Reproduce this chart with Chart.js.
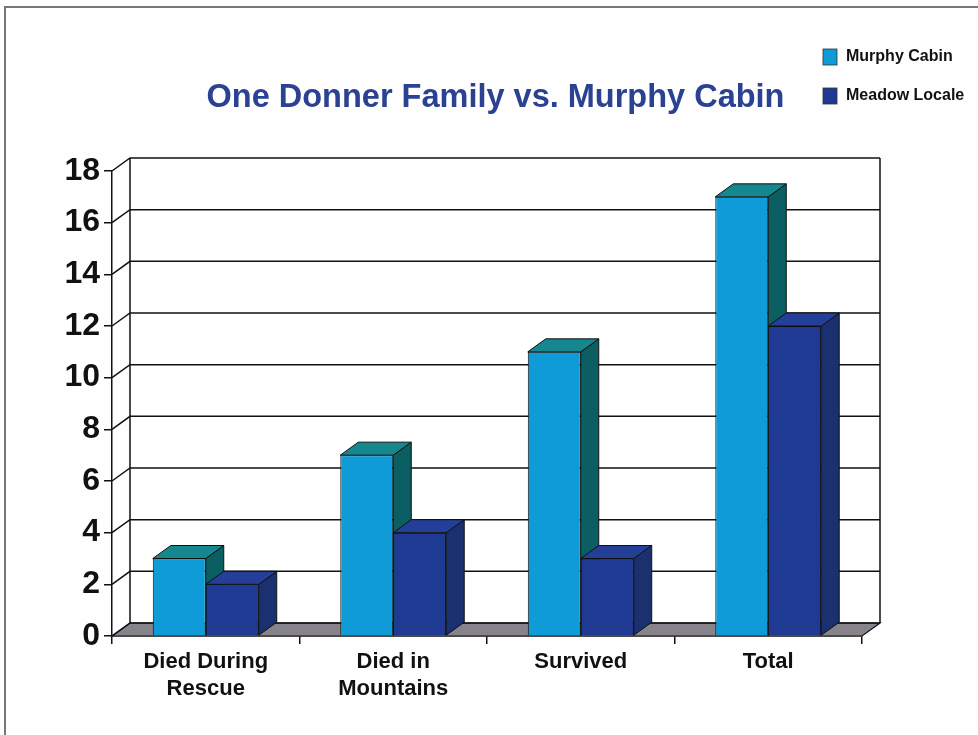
<!DOCTYPE html>
<html><head><meta charset="utf-8">
<script src="https://cdn.jsdelivr.net/npm/chart.js@4.4.1/dist/chart.umd.min.js"></script>
<style>html,body{margin:0;padding:0;background:#fff;}canvas{display:block}</style>
</head><body>
<canvas id="c" width="978" height="735"></canvas>
<script>
const TITLE = 'One Donner Family vs. Murphy Cabin';
const categories = [['Died During','Rescue'], ['Died in','Mountains'], 'Survived', 'Total'];
const seriesNames = ['Murphy Cabin', 'Meadow Locale'];
const murphyCabin = [3, 7, 11, 17];
const meadowLocale = [2, 4, 3, 12];
const yMax = 18;
const yStep = 2;

const FONT = '"Liberation Sans", Arial, sans-serif';
const DX = 18, DY = -13;
const faceColors = [
  {front:'#0e9bd7', top:'#14878f', side:'#0b5e62'},
  {front:'#1e3a93', top:'#233f98', side:'#1a306f'}
];

function poly(ctx, pts, fill){
  ctx.beginPath();
  ctx.moveTo(pts[0][0], pts[0][1]);
  for (let i=1;i<pts.length;i++) ctx.lineTo(pts[i][0], pts[i][1]);
  ctx.closePath();
  if (fill){ ctx.fillStyle = fill; ctx.fill(); }
  ctx.stroke();
}

const frame3d = {
  id:'frame3d',
  beforeDraw(chart){
    const ctx = chart.ctx;
    ctx.save();
    ctx.fillStyle = '#fefefe';
    ctx.fillRect(0,0,chart.width,chart.height);
    ctx.strokeStyle = '#777';
    ctx.lineWidth = 2;
    ctx.beginPath();
    ctx.moveTo(5, chart.height); ctx.lineTo(5, 7); ctx.lineTo(chart.width, 7);
    ctx.stroke();
    ctx.restore();
  },
  beforeDatasetsDraw(chart){
    const {ctx, chartArea:a, scales:{y}} = chart;
    ctx.save();
    ctx.strokeStyle = '#111';
    ctx.lineWidth = 1.5;
    const top = y.getPixelForValue(yMax) + DY;
    const bot = y.getPixelForValue(0) + DY;
    ctx.fillStyle = '#fff';
    ctx.fillRect(a.left+DX, top, a.right-a.left, bot-top);
    ctx.lineWidth = 1.2;
    poly(ctx, [[a.left,a.bottom],[a.right,a.bottom],[a.right+DX,a.bottom+DY],[a.left+DX,a.bottom+DY]], '#86848a');
    ctx.lineWidth = 1.5;
    for (let v=0; v<=yMax; v+=yStep){
      const py = y.getPixelForValue(v);
      ctx.beginPath();
      ctx.moveTo(a.left, py);
      ctx.lineTo(a.left+DX, py+DY);
      ctx.lineTo(a.right+DX, py+DY);
      ctx.stroke();
    }
    ctx.beginPath();
    ctx.moveTo(a.left+DX, top); ctx.lineTo(a.left+DX, bot);
    ctx.moveTo(a.right+DX, top); ctx.lineTo(a.right+DX, bot);
    ctx.stroke();
    ctx.restore();
  },
  afterDatasetsDraw(chart){
    const ctx = chart.ctx;
    const metas = [chart.getDatasetMeta(0), chart.getDatasetMeta(1)];
    ctx.save();
    ctx.strokeStyle = '#111';
    ctx.lineWidth = 1;
    const faces = (el, c) => {
      const p = el.getProps(['x','y','base','width'], true);
      const l = p.x - p.width/2, r = p.x + p.width/2;
      poly(ctx, [[r,p.y],[r+DX,p.y+DY],[r+DX,p.base+DY],[r,p.base]], c.side);
      poly(ctx, [[l,p.y],[l+DX,p.y+DY],[r+DX,p.y+DY],[r,p.y]], c.top);
    };
    for (let i=0;i<categories.length;i++){
      faces(metas[0].data[i], faceColors[0]);
      metas[1].data[i].draw(ctx);
      faces(metas[1].data[i], faceColors[1]);
    }
    ctx.restore();
  },
  afterDraw(chart){
    const ctx = chart.ctx;
    ctx.save();
    ctx.fillStyle = '#2b4192';
    ctx.font = 'bold 32.5px ' + FONT;
    ctx.textAlign = 'center';
    ctx.textBaseline = 'alphabetic';
    ctx.fillText(TITLE, 495.5, 107);
    const ds = chart.data.datasets;
    const ly = [49, 88];
    ds.forEach((d, i) => {
      ctx.fillStyle = d.backgroundColor;
      ctx.fillRect(823, ly[i], 14, 16);
      ctx.strokeStyle = '#333'; ctx.lineWidth = 0.8;
      ctx.strokeRect(823, ly[i], 14, 16);
      ctx.fillStyle = '#111';
      ctx.font = 'bold 16px ' + FONT;
      ctx.textAlign = 'left';
      ctx.textBaseline = 'middle';
      ctx.fillText(d.label, 846, ly[i] + 8);
    });
    ctx.restore();
  }
};

new Chart(document.getElementById('c'), {
  type:'bar',
  data:{
    labels: categories,
    datasets:[
      {label: seriesNames[0], data: murphyCabin, backgroundColor: faceColors[0].front, borderColor:'#111', borderWidth:1},
      {label: seriesNames[1], data: meadowLocale, backgroundColor: faceColors[1].front, borderColor:'#111', borderWidth:1}
    ]
  },
  options:{
    responsive:false,
    animation:false,
    devicePixelRatio:1,
    layout:{padding:{left:0, right:116, top:171, bottom:0}},
    datasets:{bar:{categoryPercentage:0.565, barPercentage:1.0}},
    plugins:{legend:{display:false}, title:{display:false}, tooltip:{enabled:false}},
    scales:{
      x:{
        ticks:{color:'#111', font:{family:FONT, size:22, weight:'bold', lineHeight:1.25}, padding:4, maxRotation:0, autoSkip:false},
        grid:{drawOnChartArea:false, drawTicks:true, tickLength:8, color:'#111', lineWidth:1.5},
        border:{display:true, color:'#111', width:1.5},
        afterFit(s){ s.height = 99; }
      },
      y:{
        min:0, max:yMax,
        ticks:{stepSize:yStep, color:'#111', font:{family:FONT, size:32, weight:'bold'}, padding:4, autoSkip:false},
        grid:{drawOnChartArea:false, drawTicks:true, tickLength:8, color:'#111', lineWidth:1.5},
        border:{display:true, color:'#111', width:1.5},
        afterFit(s){ s.width = 112; }
      }
    }
  },
  plugins:[frame3d]
});
</script>
</body></html>
